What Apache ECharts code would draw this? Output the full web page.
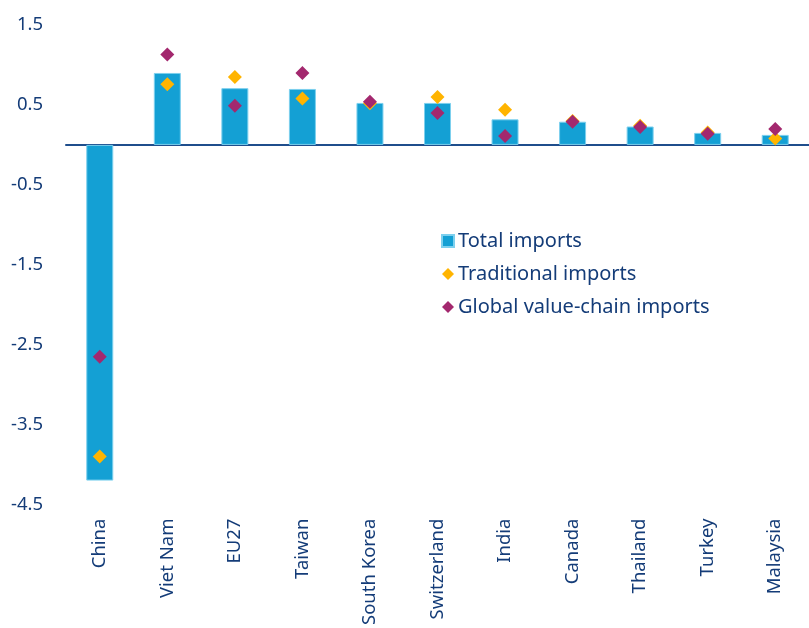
<!DOCTYPE html>
<html>
<head>
<meta charset="utf-8">
<script src="https://cdn.jsdelivr.net/npm/echarts@6/dist/echarts.min.js"></script>
<style>
  html, body { margin: 0; padding: 0; background: #fff; }
  #chart { width: 809px; height: 628px; }
</style>
</head>
<body>
<div id="chart"></div>
<script>
const countries = ['China', 'Viet Nam', 'EU27', 'Taiwan', 'South Korea', 'Switzerland', 'India', 'Canada', 'Thailand', 'Turkey', 'Malaysia']
const totalImports = [-4.2, 0.9, 0.71, 0.7, 0.525, 0.525, 0.32, 0.29, 0.23, 0.15, 0.125]
const traditionalImports = [-3.9, 0.76, 0.85, 0.58, 0.52, 0.6, 0.44, 0.3, 0.24, 0.155, 0.08]
const gvcImports = [-2.65, 1.13, 0.49, 0.9, 0.54, 0.4, 0.11, 0.29, 0.225, 0.14, 0.2]

const textColor = '#143c78'
const fontFamily = 'Noto Sans'

const chart = echarts.init(document.getElementById('chart'))

const option = {
  animation: false,
  textStyle: { fontFamily: fontFamily },
  grid: { left: 66, right: 0, top: 25, bottom: 123 },
  legend: {
    orient: 'vertical',
    left: 436,
    top: 226,
    itemGap: 13,
    itemWidth: 12,
    itemHeight: 12,
    textStyle: { color: textColor, fontSize: 20, fontFamily: fontFamily, padding: [0, 0, 0, -1] },
    data: [
      { name: 'Total imports', icon: 'rect' },
      { name: 'Traditional imports', icon: 'diamond' },
      { name: 'Global value-chain imports', icon: 'diamond' }
    ]
  },
  xAxis: [
    {
      type: 'category',
      data: countries,
      position: 'bottom',
      axisLine: { show: false, onZero: false },
      axisTick: { show: false },
      axisLabel: {
        rotate: 90,
        margin: 14,
        color: textColor,
        fontSize: 18.5,
        fontFamily: fontFamily
      }
    },
    {
      type: 'category',
      data: countries,
      position: 'bottom',
      axisLine: { show: true, onZero: true, lineStyle: { color: '#1f4e8c', width: 2 } },
      axisTick: { show: false },
      axisLabel: { show: false }
    }
  ],
  yAxis: {
    type: 'value',
    min: -4.5,
    max: 1.5,
    interval: 1,
    axisLine: { show: false },
    axisTick: { show: false },
    splitLine: { show: false },
    axisLabel: {
      margin: 23,
      color: textColor,
      fontSize: 18.5,
      fontFamily: fontFamily
    }
  },
  series: [
    {
      name: 'Total imports',
      type: 'bar',
      data: totalImports,
      barWidth: 27,
      itemStyle: { color: '#14a0d4', borderColor: '#7dd0ee', borderWidth: 1 }
    },
    {
      name: 'Traditional imports',
      type: 'scatter',
      data: traditionalImports,
      symbol: 'diamond',
      symbolSize: 14,
      itemStyle: { color: '#ffb400', opacity: 1 }
    },
    {
      name: 'Global value-chain imports',
      type: 'scatter',
      data: gvcImports,
      symbol: 'diamond',
      symbolSize: 14,
      itemStyle: { color: '#a3286e', opacity: 1 }
    }
  ]
}

chart.setOption(option)
</script>
</body>
</html>
